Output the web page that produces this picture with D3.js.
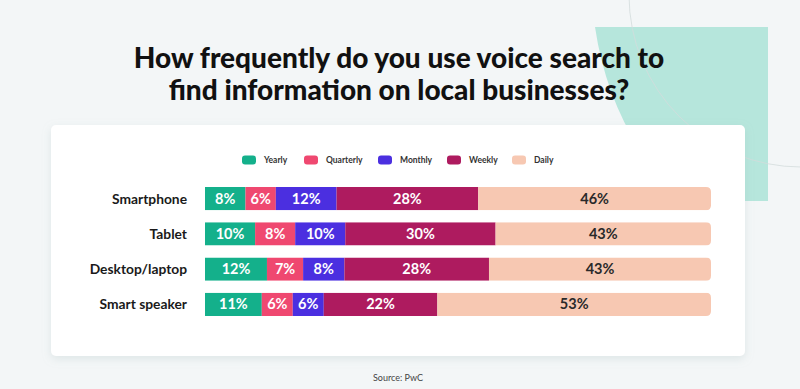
<!DOCTYPE html>
<html>
<head>
<meta charset="utf-8">
<script src="https://cdn.jsdelivr.net/npm/d3@7"></script>
<style>
  body { margin: 0; background: #f3f6f7; }
  svg { display: block; }
</style>
</head>
<body>
<svg id="chart" width="800" height="389"></svg>
<script>
// data
var devices = ["Smartphone", "Tablet", "Desktop/laptop", "Smart speaker"]
var freqs = ["Yearly", "Quarterly", "Monthly", "Weekly", "Daily"]
var yearly = [8, 10, 12, 11]
var quarterly = [6, 8, 7, 6]
var monthly = [12, 10, 8, 6]
var weekly = [28, 30, 28, 22]
var daily = [46, 43, 43, 53]
var colors = ["#14b08b", "#ef4870", "#4b2fe0", "#ae1b5f", "#f7c8b2"]

var svg = d3.select("#chart")

// background decoration
var defs = svg.append("defs")
var f = defs.append("filter").attr("id", "shadow").attr("x", "-5%").attr("y", "-5%").attr("width", "110%").attr("height", "120%")
f.append("feDropShadow").attr("dx", 0).attr("dy", 3).attr("stdDeviation", 4)
  .attr("flood-color", "#9fb5b5").attr("flood-opacity", 0.25)

svg.append("path")
  .attr("d", "M595,27 L768,27 L768,201 L640,201 L640,150 Q605,95 595,27 Z")
  .attr("fill", "#b6e6dc")

svg.append("circle")
  .attr("cx", 801).attr("cy", -5).attr("r", 172)
  .attr("fill", "none").attr("stroke", "#d3dcdc").attr("stroke-width", 0.8)

svg.append("rect")
  .attr("x", 51).attr("y", 125).attr("width", 694).attr("height", 231)
  .attr("rx", 5).attr("fill", "#fff").attr("filter", "url(#shadow)")

// title
var title = svg.append("text")
  .attr("text-anchor", "middle")
  .attr("font-family", "Lato")
  .attr("font-weight", 900)
  .attr("font-size", "28px")
  .attr("fill", "#111")
title.append("tspan").attr("x", 399).attr("y", 68).text("How frequently do you use voice search to")
title.append("tspan").attr("x", 399).attr("y", 100).text("find information on local businesses?")

// legend
var legendX = [242, 304, 378, 447, 512]
var lg = svg.selectAll(".lg")
  .data(freqs)
  .enter()
  .append("g")
  .attr("transform", function(d, i){ return "translate(" + legendX[i] + ",160)" })
lg.append("rect")
  .attr("x", 0).attr("y", -4.5).attr("width", 14).attr("height", 9).attr("rx", 3)
  .attr("fill", function(d, i){ return colors[i] })
lg.append("text")
  .attr("x", 22).attr("y", 3)
  .attr("font-family", "Lato").attr("font-weight", 700).attr("font-size", "8.5px")
  .attr("fill", "#333")
  .text(function(d){ return d })

// stacked rows
var rows = devices.map(function(name, i){
  var vals = [yearly[i], quarterly[i], monthly[i], weekly[i], daily[i]]
  var total = d3.sum(vals)
  var x0 = 0
  var segs = vals.map(function(v, j){
    var s = { v: v, x0: x0 / total, x1: (x0 + v) / total, k: j }
    x0 += v
    return s
  })
  return { name: name, segs: segs }
})

var x = d3.scaleLinear().domain([0, 1]).range([205, 711])
var y = d3.scaleBand().domain(devices).range([181, 322]).paddingInner(0.34).paddingOuter(0.17)

rows.forEach(function(r, i){
  defs.append("clipPath").attr("id", "clip" + i)
    .append("path")
    .attr("d", function(){
      var l = x(0), rr = x(1), t = y(r.name), b = t + y.bandwidth(), c = 5
      return "M" + l + "," + t + " L" + (rr - c) + "," + t + " Q" + rr + "," + t + " " + rr + "," + (t + c) +
        " L" + rr + "," + (b - c) + " Q" + rr + "," + b + " " + (rr - c) + "," + b + " L" + l + "," + b + " Z"
    })
})

var row = svg.selectAll(".row")
  .data(rows)
  .enter()
  .append("g")
  .attr("class", "row")

row.append("text")
  .attr("x", 187)
  .attr("y", function(d){ return y(d.name) + y.bandwidth() / 2 + 5 })
  .attr("text-anchor", "end")
  .attr("font-family", "Lato").attr("font-weight", 700).attr("font-size", "13.8px")
  .attr("fill", "#1a1a1a")
  .text(function(d){ return d.name })

var bars = row.append("g")
  .attr("clip-path", function(d, i){ return "url(#clip" + i + ")" })

bars.selectAll("rect")
  .data(function(d){ return d.segs.map(function(s){ s.name = d.name; return s }) })
  .enter()
  .append("rect")
  .attr("x", function(d){ return x(d.x0) })
  .attr("y", function(d){ return y(d.name) })
  .attr("width", function(d){ return x(d.x1) - x(d.x0) })
  .attr("height", y.bandwidth())
  .attr("fill", function(d){ return colors[d.k] })

row.selectAll(".num")
  .data(function(d){ return d.segs })
  .enter()
  .append("text")
  .attr("class", "num")
  .attr("x", function(d){ return (x(d.x0) + x(d.x1)) / 2 })
  .attr("y", function(d){ return y(d.name) + y.bandwidth() / 2 + 5 })
  .attr("text-anchor", "middle")
  .attr("font-family", "Lato").attr("font-weight", 700).attr("font-size", "14.5px")
  .attr("fill", function(d){ return d.k == 4 ? "#2a2a2a" : "#fff" })
  .text(function(d){ return d.v + "%" })

// source
svg.append("text")
  .attr("x", 398).attr("y", 381)
  .attr("text-anchor", "middle")
  .attr("font-family", "Lato").attr("font-size", "9px")
  .attr("fill", "#444")
  .text("Source: PwC")
</script>
</body>
</html>
